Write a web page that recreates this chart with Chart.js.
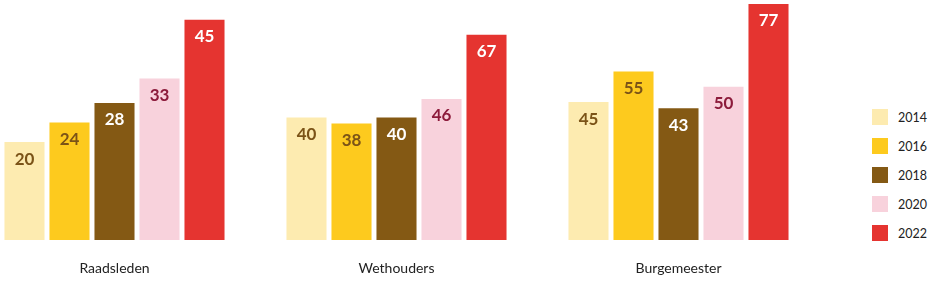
<!DOCTYPE html>
<html>
<head>
<meta charset="utf-8">
<script src="https://cdn.jsdelivr.net/npm/chart.js@4"></script>
<style>
  body { margin: 0; background: #fff; }
  #wrap { position: relative; width: 940px; height: 285px; overflow: hidden; }
  .panel { position: absolute; top: 0; }
  #legend { position: absolute; left: 872px; top: 109px; font-family: Lato, sans-serif; font-size: 12.5px; color: #222; }
  .item { display: flex; align-items: center; height: 16px; margin-bottom: 13px; }
  .sw { width: 16px; height: 16px; margin-right: 10px; }
</style>
</head>
<body>
<div id="wrap">
  <canvas class="panel" style="left:1.5px" id="chartRaad" width="225" height="285"></canvas>
  <canvas class="panel" style="left:283.5px" id="chartWet" width="225" height="285"></canvas>
  <canvas class="panel" style="left:565.5px" id="chartBurg" width="225" height="285"></canvas>
  <div id="legend"></div>
</div>
<script>
const years = ['2014', '2016', '2018', '2020', '2022'];
const raadsleden = [20, 24, 28, 33, 45];
const wethouders = [40, 38, 40, 46, 67];
const burgemeester = [45, 55, 43, 50, 77];

const barColors = ['#fdebb0', '#fdca1e', '#845914', '#f8d2dc', '#e53430'];
const labelColors = ['#7b5317', '#7b5317', '#ffffff', '#8c1b3b', '#ffffff'];

// values just under the top of each bar, group name under the baseline
const valueLabels = {
    id: 'valueLabels',
    afterDatasetsDraw(chart) {
        const ctx = chart.ctx;
        const area = chart.chartArea;
        ctx.save();
        ctx.font = 'bold 17px Lato, sans-serif';
        ctx.textAlign = 'center';
        ctx.textBaseline = 'middle';
        chart.data.datasets.forEach((ds, i) => {
            const bar = chart.getDatasetMeta(i).data[0];
            ctx.fillStyle = labelColors[i];
            ctx.fillText(ds.data[0], bar.x, bar.y + 17);
        });
        ctx.font = '14px Lato, sans-serif';
        ctx.fillStyle = '#222';
        ctx.fillText(chart.data.labels[0], (area.left + area.right) / 2, area.bottom + 28);
        ctx.restore();
    }
};

function makeChart(id, label, values, max) {
    const ctx = document.getElementById(id).getContext('2d');
    return new Chart(ctx, {
        type: 'bar',
        data: {
            labels: [label],
            datasets: years.map((y, i) => ({
                label: y,
                data: [values[i]],
                backgroundColor: barColors[i],
                barPercentage: 0.89,
                categoryPercentage: 1
            }))
        },
        options: {
            responsive: false,
            animation: false,
            layout: { padding: { top: 4, bottom: 45 } },
            scales: {
                x: { display: false },
                y: {
                    display: false,
                    min: 0,
                    max: max
                }
            },
            plugins: {
                legend: { display: false },
                tooltip: { enabled: false }
            }
        },
        plugins: [valueLabels]
    });
}

makeChart('chartRaad', 'Raadsleden', raadsleden, 48.2);
makeChart('chartWet', 'Wethouders', wethouders, 77);
makeChart('chartBurg', 'Burgemeester', burgemeester, 77);

const legend = document.getElementById('legend');
years.forEach((y, i) => {
    const item = document.createElement('div');
    item.className = 'item';
    item.innerHTML = '<span class="sw" style="background:' + barColors[i] + '"></span>' + y;
    legend.appendChild(item);
});
</script>
</body>
</html>
